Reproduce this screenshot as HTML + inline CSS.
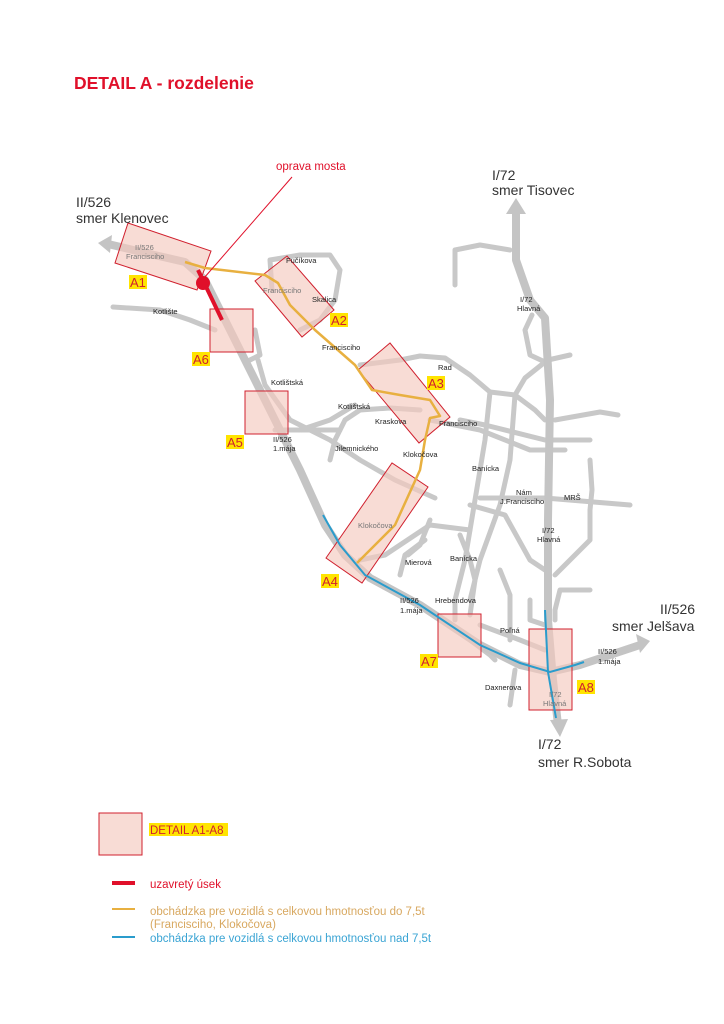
<!DOCTYPE html>
<html><head><meta charset="utf-8"><style>
html,body{margin:0;padding:0;background:#fff}
svg{display:block;font-family:"Liberation Sans",sans-serif}
.r{fill:none;stroke:#c8c8c8;stroke-width:5;stroke-linejoin:round;stroke-linecap:round}
.m{fill:none;stroke:#c4c4c4;stroke-width:8;stroke-linejoin:round}
.b{fill:#f4c9bf;fill-opacity:.65;stroke:#d0202e;stroke-width:1}
.s{font-size:7.5px;fill:#222}
</style></head><body>
<svg width="724" height="1024" viewBox="0 0 724 1024">
<text x="74" y="89" font-size="17.5" font-weight="bold" fill="#e0102a">DETAIL A - rozdelenie</text>
<g class="r">
<polyline points="113,307 160,310 190,320 215,330"/>
<polyline points="272,290 270,260 300,255 330,255 340,270 335,300 320,320 300,330"/>
<polyline points="255,330 260,355 250,360"/>
<polyline points="258,360 265,385 290,420 330,440 360,460 395,480 435,498"/>
<polyline points="275,430 300,430 340,430"/>
<polyline points="330,460 335,440 345,420 360,410 390,408 420,410"/>
<polyline points="300,430 330,420 355,405"/>
<polyline points="360,365 400,360 420,356 445,358 470,375 490,392 515,395 535,410 545,420"/>
<polyline points="430,420 480,430 530,450 565,450"/>
<polyline points="460,420 485,425 545,440 590,440"/>
<polyline points="490,392 485,440 475,500 465,560 455,600 455,620"/>
<polyline points="515,395 510,460 500,505 480,560 470,600"/>
<polyline points="480,498 545,498 630,505"/>
<polyline points="470,505 505,515 530,560 545,570"/>
<polyline points="360,560 385,555 400,545 430,525 470,530"/>
<polyline points="400,575 405,555 425,540"/>
<polyline points="460,535 470,560 475,580 470,615"/>
<polyline points="500,570 510,595 510,640"/>
<polyline points="590,460 592,490 590,510 590,540 570,560 555,575"/>
<polyline points="590,590 560,590 555,610 555,620"/>
<polyline points="480,625 520,640 545,650"/>
<polyline points="470,640 490,655 495,660"/>
<polyline points="510,705 515,670"/>
<polyline points="455,285 455,250 480,245 510,250"/>
<polyline points="532,315 525,330 530,355 545,362 535,370 525,378 515,395"/>
<polyline points="548,360 570,355"/>
<polyline points="555,420 600,412 618,415"/>
<polyline points="530,600 530,620 545,625"/>
<polyline points="430,520 420,545 408,555"/>
</g>
<g class="m">
<polyline points="108,244 150,254 185,262 205,280 225,320 250,370 275,420 300,470 325,525 345,555 370,578 420,605 480,645 520,665 550,672 580,665 640,645"/>
<polyline points="516,210 516,260 530,300 545,318 550,400 548,520 548,620 553,680 558,725"/>
</g>
<polygon points="98,243 112,235 110,253" fill="#c4c4c4"/>
<polygon points="650,641 636,634 640,653" fill="#c4c4c4"/>
<polygon points="516,198 506,214 526,214" fill="#c4c4c4"/>
<polygon points="560,737 550,720 568,719" fill="#c4c4c4"/>
<polygon class="b" points="128,223 211,251 197,290 115,263"/>
<polygon class="b" points="255,281 287,256 334,310 302,337"/>
<polygon class="b" points="358,370 390,343 450,417 419,443"/>
<polygon class="b" points="326,558 392,463 428,487 362,583"/>
<rect class="b" x="245" y="391" width="43" height="43"/>
<rect class="b" x="210" y="309" width="43" height="43"/>
<rect class="b" x="438" y="614" width="43" height="43"/>
<rect class="b" x="529" y="629" width="43" height="81"/>
<polyline points="185,262 205,268 265,275 278,283 290,305 315,330 355,365 372,390 400,395 430,400 440,416 430,418 425,440 420,470 395,525 357,563" fill="none" stroke="#e8b040" stroke-width="2.5" stroke-linejoin="round"/>
<polyline points="323,515 340,545 365,575 420,605 480,645 520,663 550,672 575,665 584,662" fill="none" stroke="#2a9ccc" stroke-width="2"/>
<polyline points="545,610 548,672 556,718" fill="none" stroke="#2a9ccc" stroke-width="2"/>
<line x1="198" y1="270" x2="222" y2="320" stroke="#e0102a" stroke-width="4"/>
<circle cx="203" cy="283" r="7" fill="#e0102a"/>
<line x1="204" y1="278" x2="292" y2="177" stroke="#e0102a" stroke-width="1"/>
<text x="276" y="170" font-size="11.5" fill="#e0102a">oprava mosta</text>
<g font-size="14" fill="#333">
<text x="76" y="207">II/526</text><text x="76" y="223">smer Klenovec</text>
<text x="492" y="180">I/72</text><text x="492" y="195">smer Tisovec</text>
<text x="660" y="614">II/526</text><text x="612" y="631">smer Jelšava</text>
<text x="538" y="749">I/72</text><text x="538" y="767">smer R.Sobota</text>
</g>
<g class="s">
<text x="135" y="250" fill="#777">II/526</text><text x="126" y="259" fill="#777">Francisciho</text>
<text x="286" y="263">Fučíkova</text><text x="263" y="293" fill="#777">Francisciho</text><text x="312" y="302">Skalica</text>
<text x="153" y="314">Kotlište</text><text x="322" y="350">Francisciho</text><text x="438" y="370">Rad</text>
<text x="271" y="385">Kotlištská</text><text x="338" y="409">Kotlištská</text><text x="375" y="424">Kraskova</text><text x="439" y="426">Francisciho</text>
<text x="273" y="442">II/526</text><text x="273" y="451">1.mája</text><text x="335" y="451">Jilemnického</text><text x="403" y="457">Klokočova</text>
<text x="520" y="302">I/72</text><text x="517" y="311">Hlavná</text>
<text x="472" y="471">Banícka</text><text x="516" y="495">Nám</text><text x="500" y="504">J.Francisciho</text><text x="564" y="500">MRŠ</text>
<text x="542" y="533">I/72</text><text x="537" y="542">Hlavná</text>
<text x="358" y="528" fill="#777">Klokočova</text><text x="405" y="565">Mierová</text><text x="450" y="561">Banícka</text>
<text x="400" y="603">II/526</text><text x="400" y="613">1.mája</text><text x="435" y="603">Hrebendova</text><text x="500" y="633">Poľná</text>
<text x="485" y="690">Daxnerova</text><text x="598" y="654">II/526</text><text x="598" y="664">1.mája</text>
<text x="549" y="697" fill="#777">I/72</text><text x="543" y="706" fill="#777">Hlavná</text>
</g>
<g font-size="13">
<rect x="129" y="275" width="18" height="14" fill="#ffe400"/><text x="130" y="287" fill="#d0202e">A1</text>
<rect x="330" y="313" width="18" height="14" fill="#ffe400"/><text x="331" y="325" fill="#d0202e">A2</text>
<rect x="427" y="376" width="18" height="14" fill="#ffe400"/><text x="428" y="388" fill="#d0202e">A3</text>
<rect x="321" y="574" width="18" height="14" fill="#ffe400"/><text x="322" y="586" fill="#d0202e">A4</text>
<rect x="226" y="435" width="18" height="14" fill="#ffe400"/><text x="227" y="447" fill="#d0202e">A5</text>
<rect x="192" y="352" width="18" height="14" fill="#ffe400"/><text x="193" y="364" fill="#d0202e">A6</text>
<rect x="420" y="654" width="18" height="14" fill="#ffe400"/><text x="421" y="666" fill="#d0202e">A7</text>
<rect x="577" y="680" width="18" height="14" fill="#ffe400"/><text x="578" y="692" fill="#d0202e">A8</text>
</g>
<rect class="b" x="99" y="813" width="43" height="42"/>
<rect x="149" y="823" width="79" height="13" fill="#ffe400"/>
<text x="150" y="834" font-size="11.5" fill="#d0202e">DETAIL A1-A8</text>
<line x1="112" y1="883" x2="135" y2="883" stroke="#e0102a" stroke-width="4"/>
<text x="150" y="888" font-size="11.5" fill="#e0102a">uzavretý úsek</text>
<line x1="112" y1="909" x2="135" y2="909" stroke="#e8b040" stroke-width="2"/>
<text x="150" y="915" font-size="11.5" fill="#d8a860">obchádzka pre vozidlá s celkovou hmotnosťou do 7,5t</text>
<text x="150" y="928" font-size="11.5" fill="#d8a860">(Francisciho, Klokočova)</text>
<line x1="112" y1="937" x2="135" y2="937" stroke="#2a9ccc" stroke-width="2"/>
<text x="150" y="942" font-size="11.5" fill="#3aa4d4">obchádzka pre vozidlá s celkovou hmotnosťou nad 7,5t</text>
</svg>
</body></html>
